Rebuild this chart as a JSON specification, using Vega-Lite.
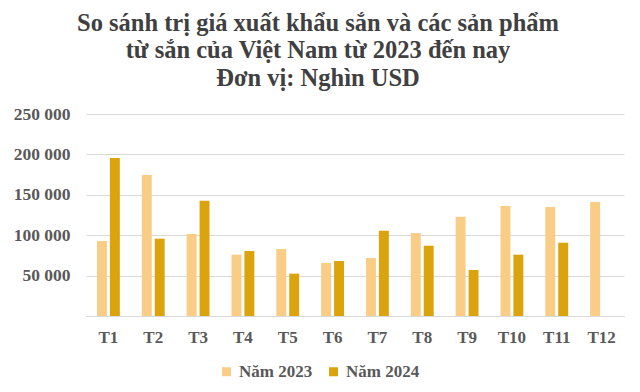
{
  "$schema": "https://vega.github.io/schema/vega-lite/v6.json",
  "autosize": {"type": "none"},
  "width": 538,
  "height": 202,
  "padding": {"left": 86, "top": 114, "right": 16, "bottom": 76},
  "background": "white",
  "config": {
    "locale": {"number": {"decimal": ",", "thousands": " ", "grouping": [3], "currency": ["", ""]}},
    "view": {"stroke": null},
    "font": "Liberation Serif"
  },
  "title": {
    "text": ["So sánh trị giá xuất khẩu sắn và các sản phẩm", "từ sắn của Việt Nam từ 2023 đến nay", "Đơn vị: Nghìn USD"],
    "font": "Liberation Serif",
    "fontSize": 24.5,
    "fontWeight": "bold",
    "color": "#404040",
    "lineHeight": 27.5,
    "anchor": "middle",
    "dx": -37,
    "offset": 14
  },
  "data": {
    "values": [
      {"month": "T1", "year": "Năm 2023", "value": 92800},
      {"month": "T1", "year": "Năm 2024", "value": 195500},
      {"month": "T2", "year": "Năm 2023", "value": 174500},
      {"month": "T2", "year": "Năm 2024", "value": 95700},
      {"month": "T3", "year": "Năm 2023", "value": 101500},
      {"month": "T3", "year": "Năm 2024", "value": 142700},
      {"month": "T4", "year": "Năm 2023", "value": 75900},
      {"month": "T4", "year": "Năm 2024", "value": 80400},
      {"month": "T5", "year": "Năm 2023", "value": 82900},
      {"month": "T5", "year": "Năm 2024", "value": 52400},
      {"month": "T6", "year": "Năm 2023", "value": 65600},
      {"month": "T6", "year": "Năm 2024", "value": 68000},
      {"month": "T7", "year": "Năm 2023", "value": 71800},
      {"month": "T7", "year": "Năm 2024", "value": 105600},
      {"month": "T8", "year": "Năm 2023", "value": 102700},
      {"month": "T8", "year": "Năm 2024", "value": 87000},
      {"month": "T9", "year": "Năm 2023", "value": 122900},
      {"month": "T9", "year": "Năm 2024", "value": 56900},
      {"month": "T10", "year": "Năm 2023", "value": 136100},
      {"month": "T10", "year": "Năm 2024", "value": 75900},
      {"month": "T11", "year": "Năm 2023", "value": 134900},
      {"month": "T11", "year": "Năm 2024", "value": 90700},
      {"month": "T12", "year": "Năm 2023", "value": 141100}
    ]
  },
  "mark": {"type": "bar"},
  "encoding": {
    "x": {
      "field": "month",
      "type": "nominal",
      "sort": null,
      "scale": {"paddingInner": 0.49, "paddingOuter": 0.245},
      "axis": {
        "title": null,
        "labelAngle": 0,
        "labelFont": "Liberation Serif",
        "labelFontSize": 17,
        "labelFontWeight": "bold",
        "labelColor": "#595959",
        "labelPadding": 13,
        "ticks": false,
        "domainColor": "#d9d9d9",
        "domainWidth": 1
      }
    },
    "xOffset": {
      "field": "year",
      "type": "nominal",
      "scale": {"paddingInner": 0.23, "paddingOuter": 0}
    },
    "y": {
      "field": "value",
      "type": "quantitative",
      "scale": {"domain": [0, 250000], "nice": false},
      "axis": {
        "title": null,
        "values": [0, 50000, 100000, 150000, 200000, 250000],
        "format": ",d",
        "labelExpr": "datum.value == 0 ? '' : datum.label",
        "labelFont": "Liberation Serif",
        "labelFontSize": 17.5,
        "labelFontWeight": "bold",
        "labelColor": "#595959",
        "labelPadding": 16,
        "ticks": false,
        "domain": false,
        "gridColor": "#d9d9d9",
        "gridWidth": 1
      }
    },
    "color": {
      "field": "year",
      "type": "nominal",
      "scale": {"domain": ["Năm 2023", "Năm 2024"], "range": ["#F9CD85", "#DBA40E"]},
      "legend": {
        "title": null,
        "orient": "none",
        "direction": "horizontal",
        "legendX": 132,
        "legendY": 249,
        "symbolType": "square",
        "symbolSize": 81,
        "symbolStrokeWidth": 0,
        "labelFont": "Liberation Serif",
        "labelFontSize": 17,
        "labelFontWeight": "bold",
        "labelColor": "#595959",
        "labelOffset": 4,
        "columnPadding": 12
      }
    }
  }
}
